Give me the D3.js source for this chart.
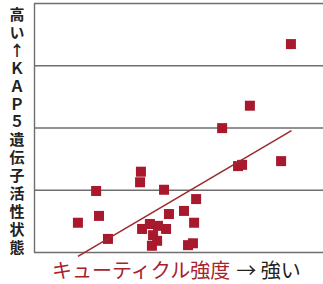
<!DOCTYPE html>
<html>
<head>
<meta charset="utf-8">
<script src="https://cdn.jsdelivr.net/npm/d3@7"></script>
<style>
  body { margin: 0; background: #fff; }
  svg { display: block; }
</style>
</head>
<body>
<div class="svg-container"></div>
<script>
// data
const cuticle = [88.9, 74.7, 65.1, 85.5, 70.6, 72.0, 37.0, 36.7, 21.5, 45.0, 56.1, 22.5, 15.2,
                 46.7, 51.9, 55.4, 25.6, 37.4, 40.1, 42.9, 45.7, 41.2, 42.6, 40.8, 53.3, 55.0];
const kap5 = [3.34, 2.35, 1.99, 1.46, 1.38, 1.40, 1.29, 1.12, 0.98, 1.00, 0.85, 0.58, 0.47,
              0.61, 0.66, 0.47, 0.21, 0.37, 0.45, 0.42, 0.37, 0.27, 0.18, 0.10, 0.11, 0.14];
const trendX = [15.2, 89.1];
const trendY = [-0.07, 1.95];
const gridTicks = [0, 1, 2, 3, 4];
const yLabel = '高い↑ＫＡＰ５遺伝子活性状態';
const xLabelRed = 'キューティクル強度';
const xLabelBlack = '→ 強い';

const width = 323;
const height = 284;
const margin = { top: 3, right: 0, bottom: 32, left: 34 };

const points = cuticle.map((c, i) => ({ x: c, y: kap5[i] }));

const xScale = d3.scaleLinear()
    .domain([0, 100])
    .range([margin.left, width - margin.right]);

const yScale = d3.scaleLinear()
    .domain([0, 4])
    .range([height - margin.bottom, margin.top]);

const svg = d3.select('.svg-container')
    .append('svg')
    .attr('width', width)
    .attr('height', height);

// grid lines + left axis line
const yAxis = d3.axisLeft(yScale)
    .tickValues(gridTicks)
    .tickSize(-(width - margin.left - margin.right))
    .tickSizeOuter(0)
    .tickFormat('');

svg.append('g')
    .attr('class', 'y-axis')
    .attr('transform', `translate(${margin.left},0)`)
    .call(yAxis)
    .call(g => g.selectAll('line').attr('stroke', '#6e6e6e').attr('stroke-width', 1.4))
    .call(g => g.select('.domain').attr('stroke', '#6e6e6e').attr('stroke-width', 1.4));

// squares
const sq = 10;
svg.selectAll('.pt')
    .data(points)
    .join('rect')
    .attr('class', 'pt')
    .attr('x', d => xScale(d.x) - sq / 2)
    .attr('y', d => yScale(d.y) - sq / 2)
    .attr('width', sq)
    .attr('height', sq)
    .attr('fill', '#a8192e');

// trend line
svg.append('line')
    .attr('x1', xScale(trendX[0]))
    .attr('y1', yScale(trendY[0]))
    .attr('x2', xScale(trendX[1]))
    .attr('y2', yScale(trendY[1]))
    .attr('stroke', '#9e2a2e')
    .attr('stroke-width', 1.6);

// vertical y label
svg.append('text')
    .attr('class', 'ylab')
    .attr('x', 17)
    .attr('y', 7)
    .style('writing-mode', 'vertical-rl')
    .style('text-orientation', 'upright')
    .attr('letter-spacing', 2.9)
    .attr('font-family', '"Noto Sans CJK JP", sans-serif')
    .attr('font-weight', 'bold')
    .attr('font-size', 15)
    .attr('fill', '#222')
    .text(yLabel);

// x label
const xl = svg.append('text')
    .attr('x', 52)
    .attr('y', 278)
    .attr('font-family', '"Noto Sans CJK JP", sans-serif')
    .attr('font-size', 20);
xl.append('tspan').attr('fill', '#a8222c').text(xLabelRed);
xl.append('tspan').attr('fill', '#222').attr('dx', 6).text(xLabelBlack);
</script>
</body>
</html>
